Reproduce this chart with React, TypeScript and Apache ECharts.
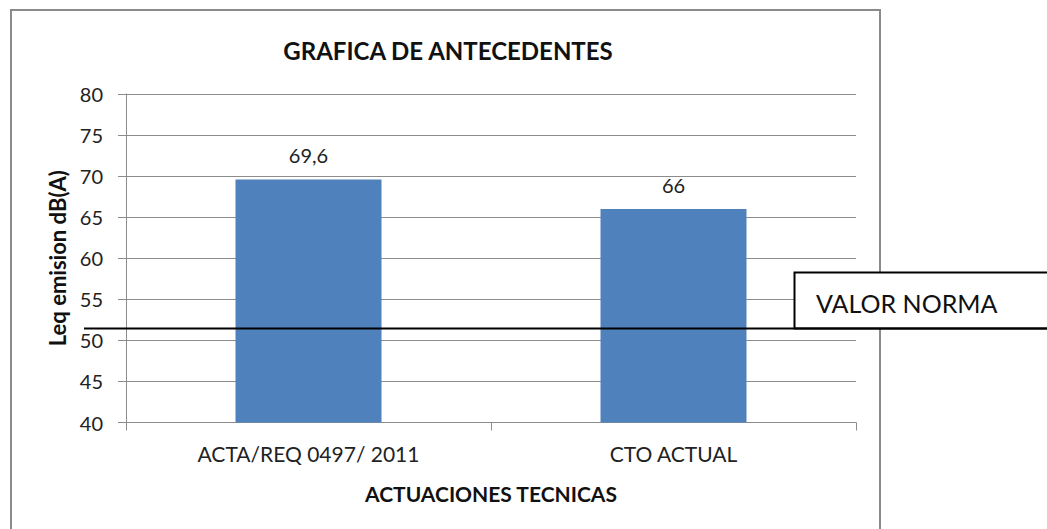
import React, { useEffect, useRef } from "react";
import * as echarts from "echarts";

const categories = ["ACTA/REQ 0497/ 2011", "CTO ACTUAL"];
const values = [69.6, 66];
const valueLabels = ["69,6", "66"];
const normValue = 51.4;
const normLabel = "VALOR NORMA";
const yTicks = { min: 40, max: 80, interval: 5 };
const titleText = "GRAFICA DE ANTECEDENTES";
const yName = "Leq emision dB(A)";
const xName = "ACTUACIONES TECNICAS";

const FONT = "Lato";

export default function App() {
  const ref = useRef<HTMLDivElement>(null);
  useEffect(() => {
    if (!ref.current) return;
    const chart = echarts.init(ref.current, null, { renderer: "svg" });
    chart.setOption({
      animation: false,
      backgroundColor: "#fff",
      title: {
        text: titleText,
        left: 443,
        top: 33,
        textAlign: "center",
        textStyle: { fontFamily: FONT, fontWeight: "bold", fontSize: 24, color: "#111" },
      },
      grid: { left: 126, right: 191, top: 94, bottom: 106.5 },
      xAxis: {
        type: "category",
        data: categories,
        name: xName,
        nameLocation: "middle",
        nameGap: 60,
        nameTextStyle: { fontFamily: FONT, fontWeight: "bold", fontSize: 21, color: "#111" },
        axisLine: { lineStyle: { color: "#8c8c8c", width: 1 } },
        axisTick: { show: true, length: 8, alignWithLabel: false, lineStyle: { color: "#8c8c8c" } },
        axisLabel: { fontFamily: FONT, fontSize: 21, color: "#222", margin: 20 },
      },
      yAxis: {
        type: "value",
        min: yTicks.min,
        max: yTicks.max,
        interval: yTicks.interval,
        name: yName,
        nameLocation: "middle",
        nameGap: 58,
        nameRotate: 90,
        nameTextStyle: { fontFamily: FONT, fontWeight: "bold", fontSize: 22, color: "#111" },
        axisLine: { show: true, lineStyle: { color: "#8c8c8c", width: 1 } },
        axisTick: { show: true, length: 8, lineStyle: { color: "#8c8c8c" } },
        axisLabel: { fontFamily: FONT, fontSize: 20, color: "#222", margin: 23 },
        splitLine: { lineStyle: { color: "#8c8c8c", width: 1 } },
      },
      series: [
        {
          type: "bar",
          data: values,
          barWidth: "40%",
          itemStyle: { color: "#4F81BD" },
          label: {
            show: true,
            position: "top",
            distance: 14,
            fontFamily: FONT,
            fontSize: 20,
            color: "#222",
            formatter: (p: any) => valueLabels[p.dataIndex],
          },
        },
      ],
    });
    const yPix = chart.convertToPixel({ yAxisIndex: 0 }, normValue) as number;
    const y = Math.round(yPix) - 0.5;
    chart.setOption({
      graphic: [
        {
          type: "rect",
          shape: { x: 11, y: 10, width: 869, height: 540 },
          style: { fill: "none", stroke: "#8a8a8a", lineWidth: 2 },
          silent: true,
          z: 100,
        },
        {
          type: "rect",
          shape: { x: 794.5, y: y - 56, width: 270, height: 56 },
          style: { fill: "#fff", stroke: "#000", lineWidth: 2 },
          z: 101,
        },
        {
          type: "text",
          x: 816,
          y: y - 26,
          style: {
            text: normLabel,
            fontFamily: FONT,
            fontSize: 25,
            fill: "#111",
            verticalAlign: "middle",
            align: "left",
          },
          z: 102,
        },
        {
          type: "line",
          shape: { x1: 84, y1: y, x2: 1047, y2: y },
          style: { stroke: "#000", lineWidth: 2 },
          z: 103,
        },
      ],
    });
    return () => chart.dispose();
  }, []);
  return (
    <div
      ref={ref}
      style={{ position: "fixed", left: 0, top: 0, width: 1047, height: 529 }}
    />
  );
}
